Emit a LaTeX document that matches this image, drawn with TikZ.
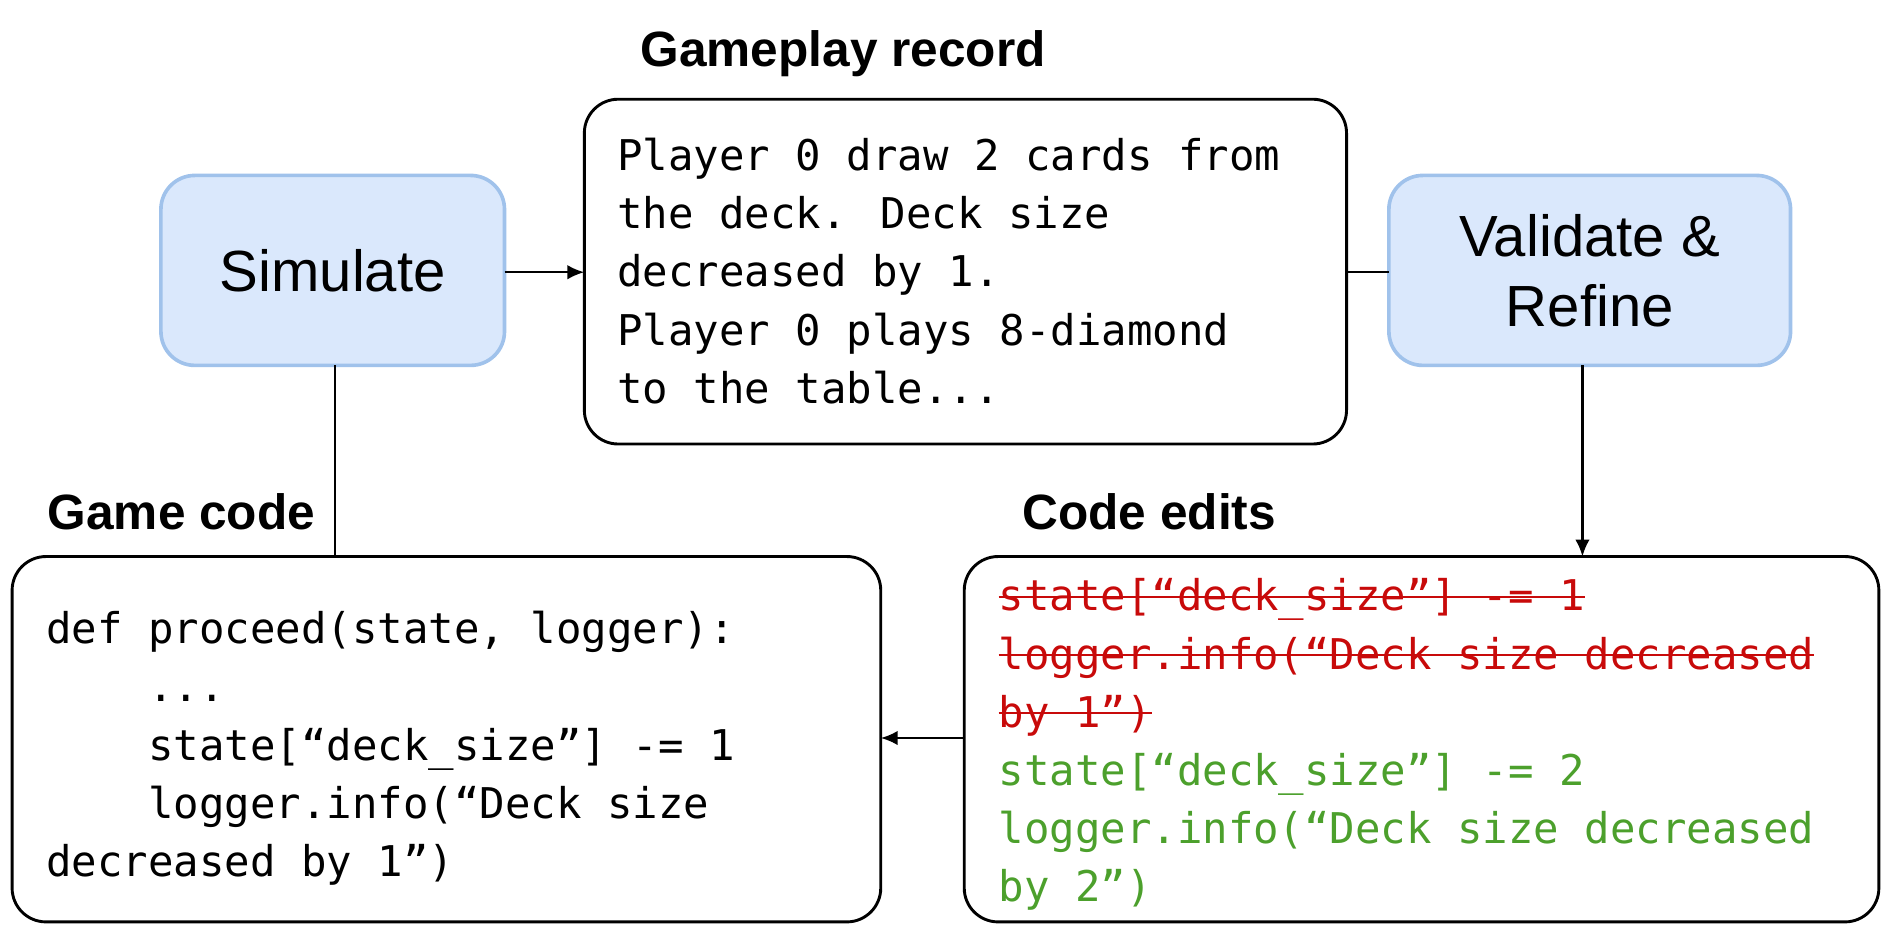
\documentclass[tikz,border=0pt]{standalone}
\usepackage{fontspec}
\setmainfont{Liberation Sans}
\newfontfamily\codefont{DejaVu Sans Mono}
\usetikzlibrary{positioning}
\usetikzlibrary{arrows.meta}
\definecolor{stepfill}{RGB}{218,232,252}
\definecolor{stepline}{RGB}{160,194,235}
\definecolor{delred}{RGB}{200,10,10}
\definecolor{addgreen}{RGB}{76,160,44}
\newcommand{\strk}[1]{\setbox0\hbox{#1}\rlap{\usebox0}\rule[0.3em]{\wd0}{1pt}}
\tikzset{
  stepbox/.style={draw=stepline,fill=stepfill,line width=1.5pt,rounded corners=14pt},
  codebox/.style={draw=black,line width=1.2pt,rounded corners=14pt},
  codetext/.style={anchor=north west,align=left,inner sep=0pt,font=\codefont\fontsize{17.5}{24}\selectfont},
  title/.style={font=\bfseries\fontsize{20.5}{24}\selectfont},
  link/.style={line width=1pt},
  arrow/.style={link,-{Latex[length=7pt,width=6pt]}}
}
\begin{document}
\begin{tikzpicture}[x=0.5pt,y=-0.5pt]
  \useasboundingbox (0,0) rectangle (1568,778);
  % boxes
  \draw[stepbox] (133,145) rectangle (417,302);
  \node[font=\fontsize{24}{28}\selectfont] (sim) at (275,224) {Simulate};
  \coordinate (simE) at (417,225);
  \coordinate (simS) at (277,302);
  \draw[codebox] (483,82) rectangle (1113,367);
  \coordinate (recW) at (483,225);
  \coordinate (recE) at (1113,225);
  \draw[stepbox] (1148,145) rectangle (1480,302);
  \node[align=center,font=\fontsize{24}{29}\selectfont] (val) at (1314,224) {Validate \&\\Refine};
  \coordinate (valW) at (1148,225);
  \coordinate (valS) at (1308,302);
  \draw[codebox] (10,460) rectangle (728,762);
  \coordinate (gameN) at (277,460);
  \coordinate (gameE) at (728,610);
  \draw[codebox] (797,460) rectangle (1553,762);
  \coordinate (editN) at (1308,460);
  \coordinate (editW) at (797,610);
  % titles
  \node[title] (rectitle) at (697,44) {Gameplay record};
  \node[title] (gametitle) at (150,423) {Game code};
  \node[title] (edittitle) at (950,423) {Code edits};
  % texts
  \node[codetext] (rec) at (510,114) {Player 0 draw 2 cards from\\the deck. Deck size\\decreased by 1.\\Player 0 plays 8-diamond\\to the table...};
  \node[codetext] (game) at (38,505) {def proceed(state, logger):\\\ \ \ \ ...\\\ \ \ \ state[“deck\_size”] -= 1\\\ \ \ \ logger.info(“Deck size\\decreased by 1”)};
  \node[codetext] (edit) at (825,478) {\color{delred}\strk{state[“deck\_size”] -= 1}\\\color{delred}\strk{logger.info(“Deck size decreased}\\\color{delred}\strk{by 1”)}\\\color{addgreen}state[“deck\_size”] -= 2\\\color{addgreen}logger.info(“Deck size decreased\\\color{addgreen}by 2”)};
  % connectors
  \draw[arrow] (simE) -- (recW);
  \draw[link] (recE) -- (valW);
  \draw[arrow] (valS) -- (editN);
  \draw[arrow] (editW) -- (gameE);
  \draw[link] (simS) -- (gameN);
\end{tikzpicture}
\end{document}
